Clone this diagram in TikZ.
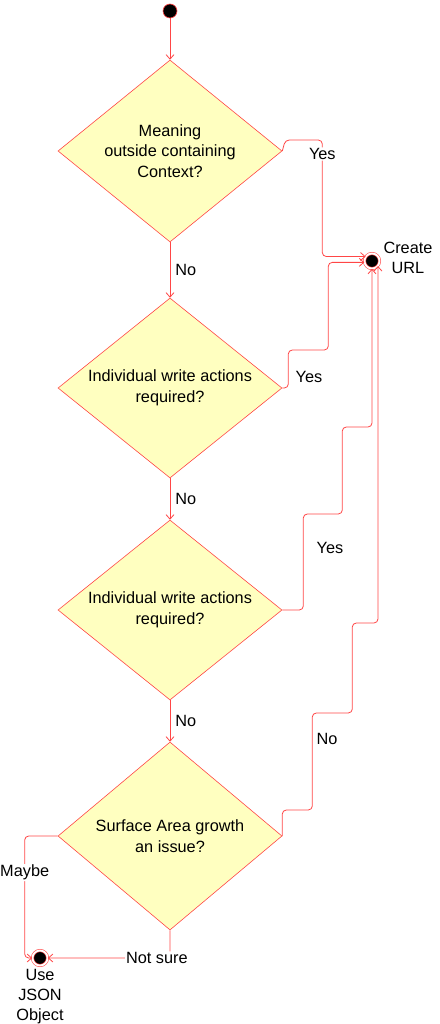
\documentclass[tikz,border=0pt]{standalone}
\usepackage{fontspec}
\setmainfont{Liberation Sans}
\usepackage{tikz}
\usetikzlibrary{arrows.meta, positioning, shapes.geometric}
\definecolor{FlowRed}{RGB}{255, 70, 70}
\definecolor{FlowYellow}{RGB}{255, 255, 192}

\begin{document}
\begin{tikzpicture}[x=1pt, y=-1pt,
  dec/.style={diamond, draw=FlowRed, fill=FlowYellow, line width=0.6pt, aspect=1.23, inner sep=0pt, minimum width=224pt, minimum height=182pt, align=center, font=\fontsize{16.3}{20.5}\selectfont},
  start/.style={circle, draw=FlowRed, fill=black, line width=0.6pt, minimum size=14pt, inner sep=0pt},
  fin/.style={circle, draw=FlowRed, double=white, double distance=1.8pt, fill=black, line width=0.6pt, minimum size=15pt, inner sep=0pt},
  txt/.style={align=center, font=\fontsize{16.3}{20}\selectfont},
  lbl/.style={fill=white, text=black, inner sep=1pt, font=\fontsize{16.3}{20}\selectfont},
  arr/.style={-{Straight Barb[length=4.5pt, width=8pt]}, FlowRed, line width=0.8pt, rounded corners=4pt}]
\useasboundingbox (0,0) rectangle (439,1024);
\node[start] (st) at (170,11) {};
\node[dec] (d1) at (170,151) {Meaning\\ outside containing\\ Context?};
\node[dec, minimum height=180pt] (d2) at (170,388) {Individual write actions\\ required?};
\node[dec, minimum height=180pt] (d3) at (170,610) {Individual write actions\\ required?};
\node[dec, minimum height=188pt] (d4) at (170,836) {Surface Area growth\\ an issue?};
\node[fin] (url) at (372,261) {};
\node[txt] (urlt) at (408,258) {Create\\ URL};
\node[fin] (json) at (40,958) {};
\node[txt] (jsont) at (40,997) {Use\\ JSON\\ Object};
\draw[arr] (st) -- (d1);
\draw[arr] (d1) -- node[lbl, right=4pt] {No} (d2);
\draw[arr] (d2) -- node[lbl, right=4pt] {No} (d3);
\draw[arr] (d3) -- node[lbl, right=4pt] {No} (d4);
\draw[arr] (d1.east) -- ++(3,-11) -- ++(37,0) |- node[lbl, pos=0.06] {Yes} (url.145);
\draw[arr] (d2.east) -- ++(6,0) -- node[lbl, pos=0.3, right=6pt] {Yes} ++(0,-38) -- ++(40,0) |- (url.190);
\draw[arr] (d3.east) -- ++(21,0) -- node[lbl, pos=0.65, right=12pt] {Yes} ++(0,-96) -- ++(39,0) -- ++(0,-87) -| (url.south);
\draw[arr] (d4.east) -- ++(0,-26) -- ++(30,0) -- node[lbl, pos=0.73, right=3pt] {No} ++(0,-97) -- ++(40,0) -- ++(0,-90) -| (url.-40);
\draw[arr] (d4.west) -- ++(-33,0) |- node[lbl, pos=0.15] {Maybe} (json.west);
\draw[arr] (d4.south) |- node[lbl, pos=0.554] {Not sure} (json.east);
\end{tikzpicture}
\end{document}
